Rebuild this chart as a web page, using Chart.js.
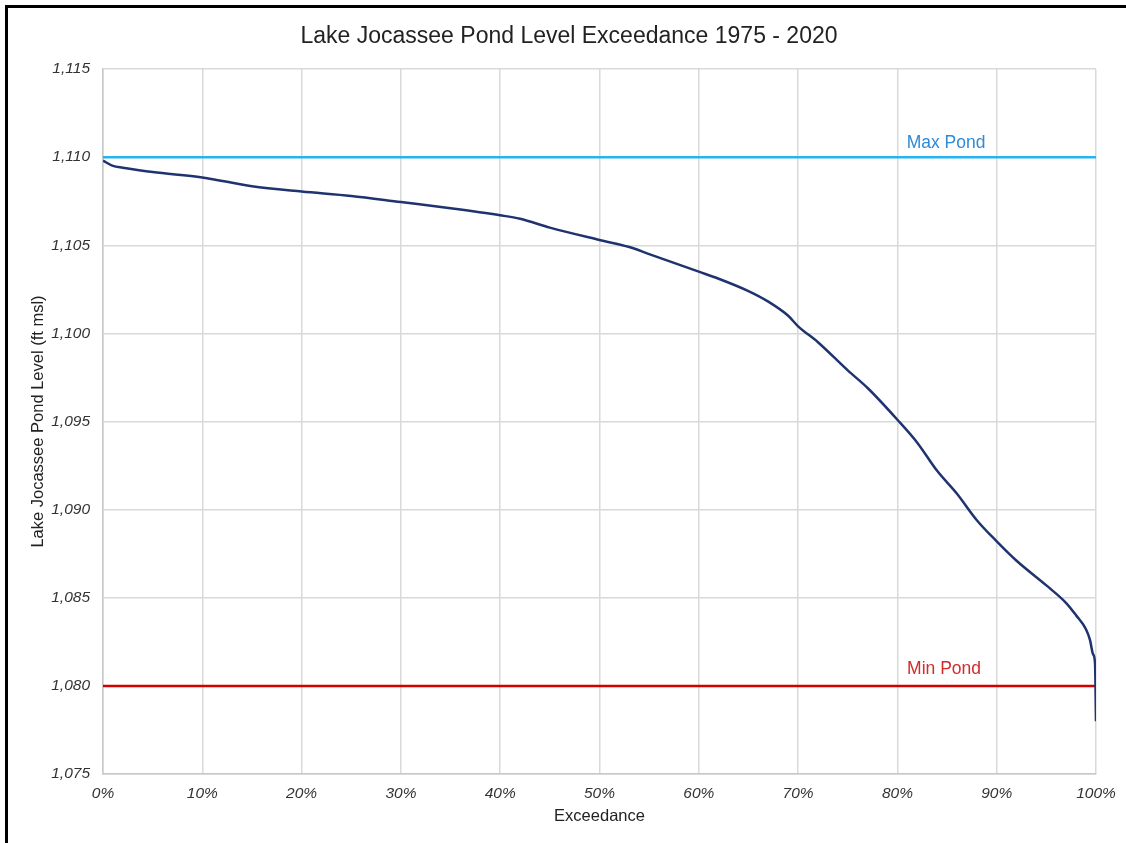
<!DOCTYPE html>
<html>
<head>
<meta charset="utf-8">
<script src="https://cdn.jsdelivr.net/npm/chart.js@4"></script>
<style>
  body { margin: 0; background: #fff; }
  #wrap { position: relative; width: 1126px; height: 843px; }
  #frame { position: absolute; left: 5px; top: 5px; width: 1130px; height: 850px;
           border-top: 3px solid #000; border-left: 3px solid #000; pointer-events: none; }
</style>
</head>
<body>
<div id="wrap">
  <canvas id="myChart" width="1126" height="843"></canvas>
  <div id="frame"></div>
</div>
<script>
// exceedance (%) and pond level (ft msl)
const exceedance = [0, 1, 2, 5, 10, 15, 20, 25, 30, 35, 40, 42, 45, 50, 53, 55, 60, 62, 65, 67, 69, 70, 72, 75, 77, 80, 82, 84, 86, 88, 90, 92, 95, 97, 98, 99, 99.4, 99.7, 99.9, 100];
const pondLevel = [1109.8, 1109.5, 1109.4, 1109.15, 1108.85, 1108.35, 1108.05, 1107.8, 1107.45, 1107.1, 1106.7, 1106.5, 1106.0, 1105.3, 1104.9, 1104.5, 1103.5, 1103.1, 1102.4, 1101.8, 1101.0, 1100.4, 1099.5, 1097.9, 1096.9, 1095.1, 1093.8, 1092.2, 1090.9, 1089.4, 1088.2, 1087.1, 1085.7, 1084.7, 1084.0, 1083.2, 1082.6, 1081.8, 1081.3, 1078.0];
const maxPond = 1110;
const minPond = 1080;
const yTicks = [1075, 1080, 1085, 1090, 1095, 1100, 1105, 1110, 1115];
const chartTitle = 'Lake Jocassee Pond Level Exceedance 1975 - 2020';

const ctx = document.getElementById('myChart').getContext('2d');
const FONT = 'Liberation Sans, Arial, sans-serif';

// title sits centred on the page, not the plot, so draw it by hand
const titleText = {
  id: 'titleText',
  afterDraw(chart) {
    const c = chart.ctx;
    c.save();
    c.font = '23px ' + FONT;
    c.fillStyle = '#222';
    c.textAlign = 'center';
    c.textBaseline = 'middle';
    c.fillText(chartTitle, 569, 37);
    c.restore();
  }
};

const pondLabels = {
  id: 'pondLabels',
  afterDatasetsDraw(chart) {
    const { ctx, scales: { x, y } } = chart;
    ctx.save();
    ctx.font = '17.5px ' + FONT;
    ctx.textAlign = 'center';
    ctx.textBaseline = 'bottom';
    ctx.fillStyle = '#2f8ad8';
    ctx.fillText('Max Pond', x.getPixelForValue(84.9), y.getPixelForValue(maxPond) - 5);
    ctx.fillStyle = '#d42a2a';
    ctx.fillText('Min Pond', x.getPixelForValue(84.7), y.getPixelForValue(minPond) - 8);
    ctx.restore();
  }
};

const chart = new Chart(ctx, {
  type: 'line',
  data: {
    datasets: [
      {
        label: 'Pond Level',
        data: exceedance.map((e, i) => ({ x: e, y: pondLevel[i] })),
        borderColor: '#1f336f',
        borderWidth: 2.5,
        pointRadius: 0,
        cubicInterpolationMode: 'monotone',
        fill: false
      },
      {
        label: 'Max Pond',
        data: [{ x: 0, y: maxPond }, { x: 100, y: maxPond }],
        borderColor: '#25b4ee',
        borderWidth: 2.5,
        pointRadius: 0
      },
      {
        label: 'Min Pond',
        data: [{ x: 0, y: minPond }, { x: 100, y: minPond }],
        borderColor: '#d40000',
        borderWidth: 2.5,
        pointRadius: 0
      }
    ]
  },
  options: {
    responsive: false,
    animation: false,
    layout: { padding: { left: 10, right: 30, top: 69, bottom: 9 } },
    plugins: {
      legend: { display: false },
      tooltip: { enabled: false },
      title: { display: false }
    },
    scales: {
      x: {
        type: 'linear',
        min: 0,
        max: 100,
        ticks: {
          stepSize: 10,
          color: '#333',
          font: { family: FONT, size: 15.5, style: 'italic' },
          padding: 10,
          maxRotation: 0,
          callback: v => v + '%'
        },
        grid: { color: '#d9d9d9', lineWidth: 1.5, drawTicks: false },
        border: { color: '#c8c8c8', width: 1.5 },
        title: {
          display: true,
          text: 'Exceedance',
          color: '#222',
          font: { family: FONT, size: 16.5 },
          padding: { top: 0, bottom: 8 }
        },
        afterFit: s => { s.height = 60; }
      },
      y: {
        type: 'linear',
        min: 1075,
        max: 1115,
        afterBuildTicks: s => { s.ticks = yTicks.map(v => ({ value: v })); },
        ticks: {
          color: '#333',
          font: { family: FONT, size: 15.5, style: 'italic' },
          padding: 13,
          callback: v => v.toLocaleString('en-US')
        },
        grid: { color: '#d9d9d9', lineWidth: 1.5, drawTicks: false },
        border: { color: '#c8c8c8', width: 1.5 },
        title: {
          display: true,
          text: 'Lake Jocassee Pond Level (ft msl)',
          color: '#222',
          font: { family: FONT, size: 16.5 },
          padding: { top: 19, bottom: 0 }
        },
        afterFit: s => { s.width = 93; }
      }
    }
  },
  plugins: [titleText, pondLabels]
});
</script>
</body>
</html>
